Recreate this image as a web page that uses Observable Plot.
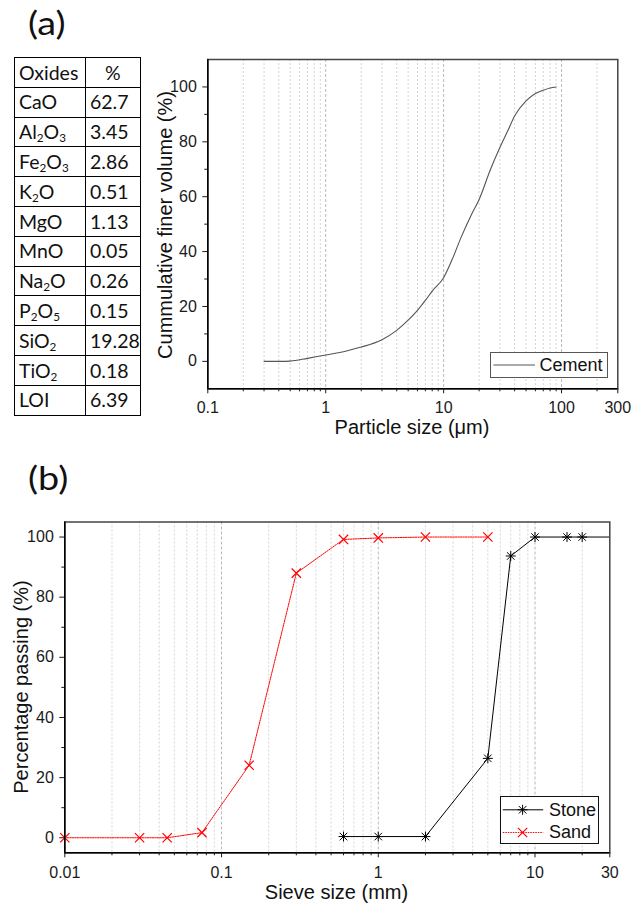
<!DOCTYPE html>
<html>
<head>
<meta charset="utf-8">
<script src="https://cdn.jsdelivr.net/npm/d3@7"></script>
<script src="https://cdn.jsdelivr.net/npm/@observablehq/plot@0.6"></script>
<style>
  body { margin: 0; background: #fff; }
  #root { position: relative; width: 633px; height: 905px; overflow: hidden; font-family: "Liberation Sans", Arial, sans-serif; color: #1a1a1a; background: #fff; }
  .panel { position: absolute; font-family: Lato, "Open Sans", sans-serif; font-size: 32px; line-height: 1; color: #111; transform: scaleX(1.18); transform-origin: left top; }
  table.ox { position: absolute; left: 14px; top: 57px; border-collapse: collapse; table-layout: fixed; font-family: Lato, "Open Sans", sans-serif; font-size: 19.5px; color: #111; }
  table.ox td { border: 1px solid #000; padding: 0 0 0 4px; height: 28.8px; white-space: nowrap; overflow: visible; line-height: 1; }
  table.ox sub { font-size: 0.6em; vertical-align: -0.25em; line-height: 0; }
  .title { position: absolute; font-size: 20px; white-space: nowrap; line-height: 1; color: #111; }
  .legend { position: absolute; background: #fff; box-sizing: border-box; }
  .legend .lbl { position: absolute; font-size: 18px; line-height: 1; white-space: nowrap; color: #111; }
</style>
</head>
<body>
<div id="root"></div>
<script>
// ---------- data ----------
const oxideNames = ["CaO", "Al<sub>2</sub>O<sub>3</sub>", "Fe<sub>2</sub>O<sub>3</sub>", "K<sub>2</sub>O", "MgO", "MnO", "Na<sub>2</sub>O", "P<sub>2</sub>O<sub>5</sub>", "SiO<sub>2</sub>", "TiO<sub>2</sub>", "LOI"];
const oxideValues = ["62.7", "3.45", "2.86", "0.51", "1.13", "0.05", "0.26", "0.15", "19.28", "0.18", "6.39"];

const cementSize = [0.3, 0.4, 0.5, 0.7, 1, 1.5, 2, 3, 4, 5, 6, 7, 8, 10, 12, 14, 17, 20, 25, 30, 35, 40, 50, 60, 70, 80, 90];
const cementVol  = [0, 0, 0.1, 1.1, 2.3, 3.8, 5.2, 7.9, 11.3, 15, 18.6, 22.2, 25.6, 30.5, 37.8, 45, 53, 59, 70, 77.9, 84, 89.4, 94.9, 97.6, 98.8, 99.6, 100];

const stoneSize = [0.6, 1, 2, 5, 7, 10, 16, 20, 37.5];
const stonePass = [0.4, 0.4, 0.4, 26.4, 93.7, 100, 100, 100, 100];
const sandSize  = [0.01, 0.03, 0.045, 0.075, 0.15, 0.3, 0.6, 1, 2, 5];
const sandPass  = [0, 0, 0, 1.7, 24.1, 88, 99.2, 99.7, 100, 100];

const xDomA = [0.1, 300.01], yDomA = [-10, 110];
const xDomB = [0.01, 30.001], yDomB = [-5, 105];
const xMajorA = [0.1, 1, 10, 100, 300];
const xMinorA = [0.2,0.3,0.4,0.5,0.6,0.7,0.8,0.9, 2,3,4,5,6,7,8,9, 20,30,40,50,60,70,80,90, 200];
const xGridMajorA = [1, 10, 100];
const xMajorB = [0.01, 0.1, 1, 10, 30];
const xMinorB = [0.02,0.03,0.04,0.05,0.06,0.07,0.08,0.09, 0.2,0.3,0.4,0.5,0.6,0.7,0.8,0.9, 2,3,4,5,6,7,8,9, 20];
const xGridMajorB = [0.1, 1, 10];
const yMajor = [0, 20, 40, 60, 80, 100];
const yMinor = [10, 30, 50, 70, 90];

const cement = cementSize.map((s, i) => ({size: s, v: cementVol[i]}));
const stone = stoneSize.map((s, i) => ({size: s, v: stonePass[i]}));
const sand = sandSize.map((s, i) => ({size: s, v: sandPass[i]}));

const root = document.getElementById("root");
function place(el, left, top) {
  el.style.position = "absolute";
  el.style.left = left + "px";
  el.style.top = top + "px";
  root.appendChild(el);
  return el;
}
const ink = "#1a1a1a";
const baseStyle = {fontFamily: "'Liberation Sans', Arial, sans-serif", fontSize: "16px", color: ink, background: "transparent", overflow: "visible"};

// ---------- panel labels ----------
const pa = document.createElement("div"); pa.className = "panel"; pa.textContent = "(a)"; place(pa, 28, 7);
const pb = document.createElement("div"); pb.className = "panel"; pb.textContent = "(b)"; place(pb, 28, 462);

// ---------- oxide table ----------
const tbl = document.createElement("table");
tbl.className = "ox";
let html = '<colgroup><col style="width:71px"><col style="width:54px"></colgroup>';
html += '<tr><td>Oxides</td><td style="text-align:center;padding:0">%</td></tr>';
oxideNames.forEach((n, i) => { html += `<tr><td>${n}</td><td>${oxideValues[i]}</td></tr>`; });
tbl.innerHTML = html;
root.appendChild(tbl);

// ---------- chart (a) ----------
const chartA = Plot.plot({
  width: 493, height: 400,
  marginLeft: 67.3, marginRight: 15.7, marginTop: 19, marginBottom: 51.7,
  style: baseStyle,
  x: {type: "log", domain: xDomA},
  y: {domain: yDomA},
  marks: [
    Plot.gridX(xMinorA, {stroke: "#d4d4d4", strokeOpacity: 1, strokeDasharray: "2,2"}),
    Plot.gridX(xGridMajorA, {stroke: "#b8b8b8", strokeOpacity: 1, strokeDasharray: "3,2"}),
    Plot.line(cement, {x: "size", y: "v", stroke: "#555", strokeWidth: 1.1, curve: "monotone-x"}),
    Plot.frame({stroke: "#444", strokeWidth: 1.5}),
    Plot.ruleX([xDomA[0]], {stroke: "#000", strokeWidth: 1.5}),
    Plot.ruleY([yDomA[0]], {stroke: "#000", strokeWidth: 1.5}),
    Plot.axisY(yMajor, {tickSize: 5, tickPadding: 6, label: null, tickFormat: d => String(d)}),
    Plot.axisY(yMinor, {tickSize: 3, fill: "none", label: null}),
    Plot.axisX(xMajorA, {tickSize: 5, fill: "none", label: null}),
    Plot.axisX(xMinorA, {tickSize: 3, fill: "none", label: null}),
    Plot.text(xMajorA, {x: d => d, frameAnchor: "bottom", lineAnchor: "top", dy: 12.7, text: d => String(d), fill: ink, fontSize: 16})
  ]
});
place(chartA, 140, 40);

const tAy = document.createElement("div"); tAy.className = "title"; tAy.textContent = "Cummulative finer volume (%)";
tAy.style.transform = "translate(-50%,-50%) rotate(-90deg)"; place(tAy, 165, 225);
const tAx = document.createElement("div"); tAx.className = "title"; tAx.textContent = "Particle size (\u03bcm)";
tAx.style.transform = "translate(-50%,-50%)"; place(tAx, 412, 427);

// legend (a)
const lgA = document.createElement("div"); lgA.className = "legend";
lgA.style.width = "118px"; lgA.style.height = "26px"; lgA.style.border = "1px solid #555";
lgA.innerHTML = '<svg width="116" height="24" style="position:absolute;left:0;top:0"><line x1="2.5" x2="44" y1="12" y2="12" stroke="#555" stroke-width="1.1"/></svg><div class="lbl" style="left:49px;top:3px">Cement</div>';
place(lgA, 489.5, 352.3);

// ---------- chart (b) ----------
const chartB = Plot.plot({
  width: 633, height: 405,
  marginLeft: 64.3, marginRight: 23.7, marginTop: 21.5, marginBottom: 52.7,
  style: baseStyle,
  x: {type: "log", domain: xDomB},
  y: {domain: yDomB},
  marks: [
    Plot.gridX(xMinorB, {stroke: "#d4d4d4", strokeOpacity: 1, strokeDasharray: "2,2"}),
    Plot.gridX(xGridMajorB, {stroke: "#b8b8b8", strokeOpacity: 1, strokeDasharray: "3,2"}),
    Plot.line(stone, {x: "size", y: "v", stroke: "#000", strokeWidth: 1, clip: true}),
    Plot.line(sand, {x: "size", y: "v", stroke: "#ff0000", strokeWidth: 1, strokeDasharray: "1.5,1", clip: true}),
    Plot.dot(stone, {x: "size", y: "v", symbol: "plus", r: 3.3, stroke: "#000", fill: "none", strokeWidth: 1, clip: true}),
    Plot.dot(stone, {x: "size", y: "v", symbol: "times", r: 3.5, stroke: "#000", fill: "none", strokeWidth: 1, clip: true}),
    Plot.dot(sand, {x: "size", y: "v", symbol: "times", r: 4.3, stroke: "#ff0000", fill: "none", strokeWidth: 1.2}),
    Plot.frame({stroke: "#444", strokeWidth: 1.5}),
    Plot.ruleX([xDomB[0]], {stroke: "#000", strokeWidth: 1.5}),
    Plot.ruleY([yDomB[0]], {stroke: "#000", strokeWidth: 1.5}),
    Plot.axisY(yMajor, {tickSize: 5, tickPadding: 6, label: null, tickFormat: d => String(d)}),
    Plot.axisY(yMinor, {tickSize: 3, fill: "none", label: null}),
    Plot.axisX(xMajorB, {tickSize: 5, fill: "none", label: null}),
    Plot.axisX(xMinorB, {tickSize: 3, fill: "none", label: null}),
    Plot.text(xMajorB, {x: d => d, frameAnchor: "bottom", lineAnchor: "top", dy: 13.7, text: d => String(d), fill: ink, fontSize: 16})
  ]
});
place(chartB, 0, 500);

const tBy = document.createElement("div"); tBy.className = "title"; tBy.textContent = "Percentage passing (%)";
tBy.style.transform = "translate(-50%,-50%) rotate(-90deg)"; place(tBy, 21, 687);
const tBx = document.createElement("div"); tBx.className = "title"; tBx.textContent = "Sieve size (mm)";
tBx.style.transform = "translate(-50%,-50%)"; place(tBx, 336.5, 892);

// legend (b)
const sym = (type, r) => d3.symbol().type(type).size(Math.PI * r * r)();
const lgB = document.createElement("div"); lgB.className = "legend";
lgB.style.width = "99px"; lgB.style.height = "48.5px"; lgB.style.border = "1px solid #111";
lgB.innerHTML =
  '<svg width="97" height="47" style="position:absolute;left:0;top:0">' +
  '<line x1="1.8" x2="42.2" y1="12.8" y2="12.8" stroke="#000" stroke-width="1"/>' +
  `<path transform="translate(21.6,12.8)" d="${sym(d3.symbolPlus, 3.3)}" stroke="#000" fill="none"/>` +
  `<path transform="translate(21.6,12.8)" d="${sym(d3.symbolTimes, 3.5)}" stroke="#000" fill="none"/>` +
  '<line x1="1.8" x2="42.2" y1="35.5" y2="35.5" stroke="#ff0000" stroke-width="1" stroke-dasharray="1.5,1"/>' +
  `<path transform="translate(21.6,35.5)" d="${sym(d3.symbolTimes, 4.3)}" stroke="#ff0000" stroke-width="1.2" fill="none"/>` +
  '</svg>' +
  '<div class="lbl" style="left:48.5px;top:4px">Stone</div>' +
  '<div class="lbl" style="left:48.5px;top:26.5px">Sand</div>';
place(lgB, 499.6, 795.7);
</script>
</body>
</html>
